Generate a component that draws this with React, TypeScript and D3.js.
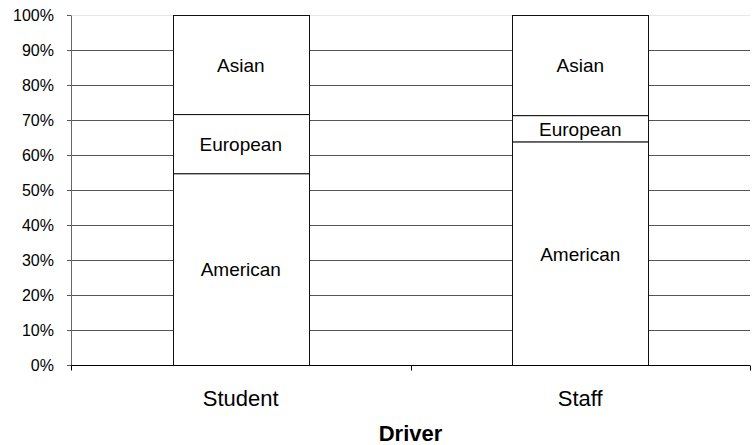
import React from "react";
import * as d3 from "d3";

const categories = ["Student", "Staff"];
const seriesNames = ["American", "European", "Asian"];
const american = [54.8, 63.9];
const european = [16.9, 7.5];
const asian = [28.3, 28.6];
const yTicks = [0, 10, 20, 30, 40, 50, 60, 70, 80, 90, 100];
const xTitle = "Driver";

const W = 754;
const H = 445;
const left = 71;
const right = 750;
const top = 15.5;
const bottom = 365.5;
const font = "'Liberation Sans', Arial, sans-serif";

export default function App() {
  const x = d3.scaleBand().domain(categories).range([left, right]).paddingInner(0.6).paddingOuter(0.3);
  const xb = d3.scaleBand().domain(categories).range([left, right]);
  const y = d3.scaleLinear().domain([0, 100]).range([bottom, top]);
  const rows = categories.map((c, i) => ({ cat: c, American: american[i], European: european[i], Asian: asian[i] }));
  const stacked = d3.stack<any>().keys(seriesNames)(rows);

  return (
    <svg width={W} height={H} style={{ position: "absolute", left: 0, top: 0, background: "#fff" }}>
      {yTicks.map((t) => (
        <g key={t}>
          <line x1={left - 4} x2={right} y1={y(t)} y2={y(t)} stroke={t === 100 ? "#e8e8e8" : "#555"} strokeWidth={1} />
          <line x1={left - 4} x2={left} y1={y(t)} y2={y(t)} stroke="#555" strokeWidth={1} />
          <text x={54} y={y(t)} dy="0.36em" textAnchor="end" fontFamily={font} fontSize={16} fill="#000">
            {t}%
          </text>
        </g>
      ))}
      <line x1={left + 0.5} x2={left + 0.5} y1={top} y2={bottom} stroke="#666" strokeWidth={1} />
      {stacked.map((s) =>
        s.map((d: any, i: number) => (
          <g key={s.key + i}>
            <rect
              x={Math.round(x(categories[i])!) + 0.5}
              y={y(d[1])}
              width={Math.round(x.bandwidth())}
              height={y(d[0]) - y(d[1])}
              fill="#fff"
              stroke="#111"
              strokeWidth={1}
            />
            <text
              x={x(categories[i])! + x.bandwidth() / 2}
              y={(y(d[0]) + y(d[1])) / 2}
              dy="0.36em"
              textAnchor="middle"
              fontFamily={font}
              fontSize={19}
              fill="#000"
            >
              {s.key}
            </text>
          </g>
        ))
      )}
      <line x1={left} x2={right} y1={bottom} y2={bottom} stroke="#000" strokeWidth={1} />
      {[left, ...categories.map((c) => xb(c)! + xb.bandwidth())].map((v, i) => (
        <line key={i} x1={Math.round(v) + 0.5} x2={Math.round(v) + 0.5} y1={bottom} y2={bottom + 5} stroke="#000" strokeWidth={1} />
      ))}
      {categories.map((c) => (
        <text key={c} x={x(c)! + x.bandwidth() / 2} y={406} textAnchor="middle" fontFamily={font} fontSize={22} fill="#000">
          {c}
        </text>
      ))}
      <text x={(left + right) / 2} y={441} textAnchor="middle" fontFamily={font} fontSize={22} fontWeight="bold" fill="#000">
        {xTitle}
      </text>
    </svg>
  );
}
